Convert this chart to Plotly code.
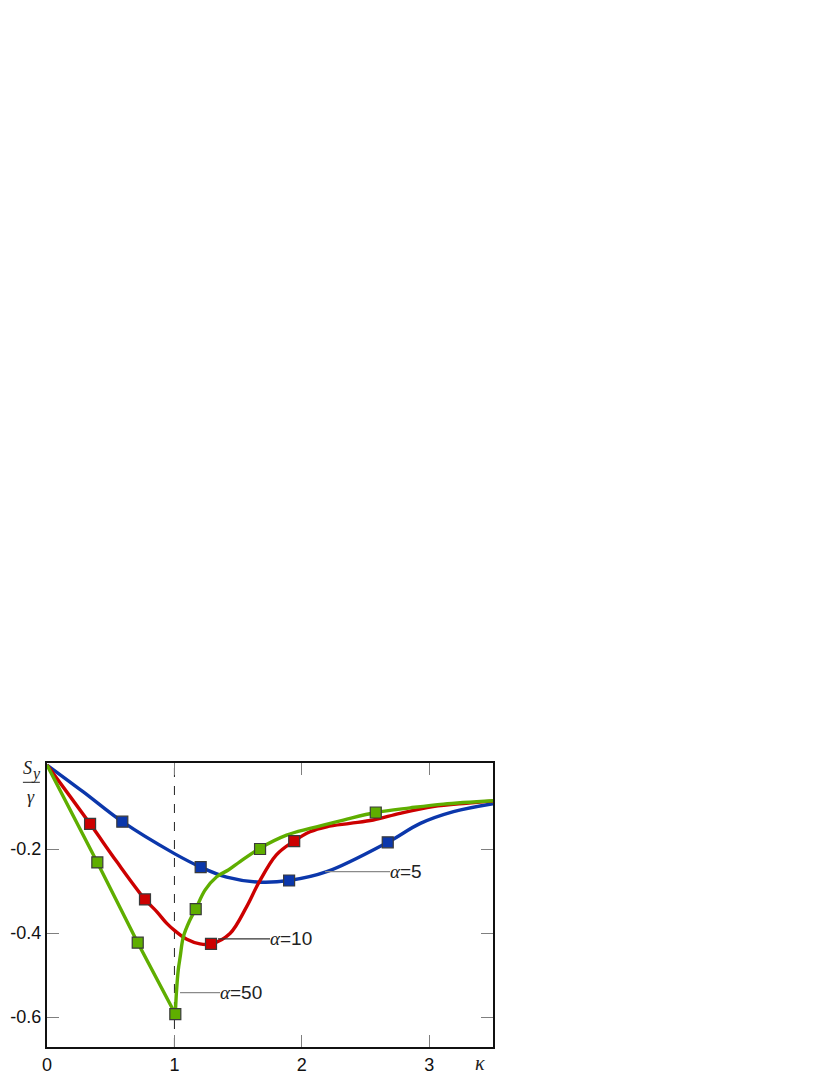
"""Sy/gamma versus kappa for three alpha values (curves + computed points)."""
import plotly.graph_objects as go

COL_A5 = "#0b37ab"
COL_A10 = "#cc0000"
COL_A50 = "#5fae00"
SANS = "Liberation Sans, Arial, sans-serif"
SERIF = "Liberation Serif, Times New Roman, serif"

# curve traces
a5_x = [0, 0.285, 0.591, 1.0, 1.206, 1.41, 1.67, 1.90, 2.195, 2.674, 2.93, 3.19, 3.5]
a5_y = [0, -0.064, -0.135, -0.211, -0.243, -0.267, -0.279, -0.275, -0.254, -0.184, -0.139, -0.111, -0.092]

a10_x = [0, 0.338, 0.547, 0.769, 0.861, 0.94, 1.005, 1.097, 1.20, 1.287, 1.436, 1.567, 1.659, 1.80, 1.94,
         2.064, 2.195, 2.378, 2.56, 2.77, 3.03, 3.29, 3.5]
a10_y = [0, -0.140, -0.230, -0.320, -0.349, -0.377, -0.395, -0.415, -0.426, -0.426, -0.401, -0.337, -0.282,
         -0.214, -0.181, -0.159, -0.147, -0.139, -0.131, -0.115, -0.099, -0.091, -0.086]

a50_left_x = [0, 0.395, 0.712, 1.007]
a50_left_y = [0, -0.232, -0.423, -0.593]
a50_right_x = [1.007, 1.016, 1.03, 1.046, 1.07, 1.122, 1.167, 1.24, 1.332, 1.423, 1.515, 1.672, 1.88, 2.064,
               2.326, 2.58, 2.85, 3.11, 3.5]
a50_right_y = [-0.593, -0.540, -0.488, -0.455, -0.409, -0.369, -0.343, -0.298, -0.266, -0.250, -0.230, -0.198,
               -0.167, -0.151, -0.131, -0.113, -0.102, -0.093, -0.085]

# square markers
pts5_x = [0.591, 1.206, 1.90, 2.674]
pts5_y = [-0.135, -0.243, -0.275, -0.184]
pts10_x = [0.338, 0.769, 1.287, 1.94]
pts10_y = [-0.140, -0.320, -0.426, -0.181]
pts50_x = [0.395, 0.712, 1.007, 1.167, 1.672, 2.58]
pts50_y = [-0.232, -0.423, -0.593, -0.343, -0.200, -0.113]

x_ticks = [0, 1, 2, 3]
y_ticks = [-0.6, -0.4, -0.2]

fig = go.Figure()


def curve(x, y, color, shape="spline"):
    fig.add_trace(go.Scatter(x=x, y=y, mode="lines", showlegend=False, hoverinfo="skip",
                             line=dict(color=color, width=3.4, shape=shape, smoothing=1.0)))


def squares(x, y, color):
    fig.add_trace(go.Scatter(x=x, y=y, mode="markers", showlegend=False,
                             marker=dict(symbol="square", size=11, color=color,
                                         line=dict(color="#3a3a3a", width=1.2))))


curve(a5_x, a5_y, COL_A5)
curve(a10_x, a10_y, COL_A10)
curve(a50_left_x, a50_left_y, COL_A50, shape="linear")
curve(a50_right_x, a50_right_y, COL_A50)
squares(pts5_x, pts5_y, COL_A5)
squares(pts10_x, pts10_y, COL_A10)
squares(pts50_x, pts50_y, COL_A50)

# dashed guide at kappa = 1
fig.add_shape(type="line", x0=1, x1=1, y0=0, y1=1, xref="x", yref="paper",
              line=dict(color="#222", width=1, dash="dash"), layer="below")

# alpha labels with leader lines
labels = [("5", 2.182, 2.692, -0.254, "#8a8a8a"),
          ("10", 1.342, 1.750, -0.414, "#333333"),
          ("50", 1.044, 1.358, -0.542, "#8a8a8a")]
for txt, x0, x1, y, lc in labels:
    fig.add_shape(type="line", x0=x0, x1=x1, y0=y, y1=y, xref="x", yref="y",
                  line=dict(color=lc, width=1.2))
    fig.add_annotation(x=x1, y=y, xref="x", yref="y", xanchor="left", yanchor="middle", showarrow=False,
                       text=f"<span style='font-family:{SERIF}'><i>α</i></span>={txt}",
                       font=dict(family=SANS, size=19, color="#222"), xshift=-2)

# axis captions: kappa below the axis, Sy over gamma as a stacked fraction
cap = dict(xref="paper", yref="paper", xanchor="center", yanchor="middle", showarrow=False)
fig.add_annotation(x=3.40, y=0, xref="x", yref="paper", yanchor="top", showarrow=False, yshift=-3,
                   text="<i>κ</i>", font=dict(family=SERIF, size=20, color="#222"))
fig.add_annotation(x=-0.0437, y=0.982, text="<i>S</i>", font=dict(family=SERIF, size=18, color="#222"), **cap)
fig.add_annotation(x=-0.0250, y=0.962, text="<i>y</i>", font=dict(family=SERIF, size=16, color="#222"), **cap)
fig.add_annotation(x=-0.0360, y=0.880, text="<i>γ</i>", font=dict(family=SERIF, size=18, color="#222"), **cap)
fig.add_shape(type="line", x0=-0.054, x1=-0.016, y0=0.932, y1=0.932, xref="paper", yref="paper",
              line=dict(color="#222", width=1))

# page body adds an 8px offset, so the figure is sized to keep the frame in place
fig.update_layout(
    width=822, height=1067,
    margin=dict(l=39, r=337, t=755, b=28),
    plot_bgcolor="white", paper_bgcolor="white",
    font=dict(family=SANS, size=18, color="#111"),
)
fig.update_xaxes(range=[0, 3.5], tickvals=x_ticks, ticktext=[str(v) for v in x_ticks],
                 ticks="inside", ticklen=12, tickcolor="#7f7f7f", tickwidth=1,
                 showline=True, linecolor="#111", linewidth=2, mirror="ticks",
                 showgrid=False, zeroline=False, automargin=False)
fig.update_yaxes(range=[-0.6714, 0.0048], tickvals=y_ticks, ticktext=[f"{v:.1f}" for v in y_ticks],
                 ticks="inside", ticklen=12, tickcolor="#7f7f7f", tickwidth=1,
                 showline=True, linecolor="#111", linewidth=2, mirror="ticks",
                 showgrid=False, zeroline=False, automargin=False)

fig.write_html("out.html")
